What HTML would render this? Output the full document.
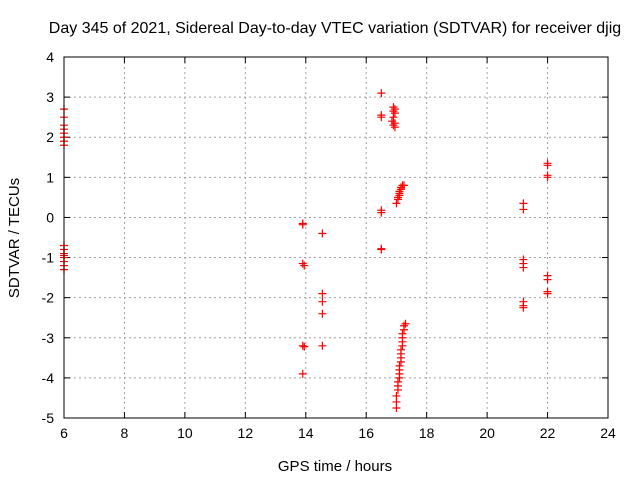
<!DOCTYPE html>
<html><head><meta charset="utf-8"><style>
body{margin:0;background:#fff;}
svg{display:block;font-family:"Liberation Sans",sans-serif;}
</style></head><body>
<svg id="chart" width="640" height="480">
<rect width="640" height="480" fill="#fff"/>
<text x="335" y="33" font-size="16" text-anchor="middle">Day 345 of 2021, Sidereal Day-to-day VTEC variation (SDTVAR) for receiver djig</text>
<text x="335" y="471" font-size="15" text-anchor="middle">GPS time / hours</text>
<text x="19" y="238" font-size="15" text-anchor="middle" transform="rotate(-90 19 238)">SDTVAR / TECUs</text>
<g id="grid"></g><g id="ticks"></g><g id="pts"></g>
<rect x="64" y="57" width="544" height="361" fill="none" stroke="#000" stroke-width="1"/>
</svg>
<script>
const xTicks=[6,8,10,12,14,16,18,20,22,24];
const yTicks=[-5,-4,-3,-2,-1,0,1,2,3,4];
const hours=[6,6,6,6,6,6,6,6,6,6,6,6,6,6,6,6,
13.9,13.9,13.9,13.95,13.9,13.95,13.9,
14.55,14.55,14.55,14.55,14.55,
16.5,16.5,16.5,16.5,16.5,16.5,16.5,
16.9,16.95,16.9,16.95,16.9,16.85,16.95,16.9,16.95,
17.0,17.05,17.05,17.1,17.1,17.1,17.15,17.15,17.2,17.25,
17.0,17.0,17.0,17.05,17.05,17.05,17.1,17.1,17.1,17.1,17.15,17.15,17.15,17.15,17.2,17.2,17.2,17.2,17.25,17.25,17.3,
21.2,21.2,21.2,21.2,21.2,21.2,21.2,21.2,
22.0,22.0,22.0,22.0,22.0,22.0,22.0,22.0];
const sdtvar=[2.7,2.5,2.3,2.2,2.1,2.0,1.9,1.8,-0.7,-0.8,-0.9,-0.95,-1.0,-1.1,-1.2,-1.3,
-0.15,-0.18,-1.15,-1.2,-3.2,-3.22,-3.9,
-0.4,-1.9,-2.1,-2.4,-3.2,
3.1,2.55,2.5,0.18,0.12,-0.78,-0.8,
2.75,2.7,2.65,2.6,2.5,2.4,2.35,2.3,2.25,
0.35,0.45,0.5,0.55,0.6,0.65,0.7,0.75,0.8,0.8,
-4.75,-4.6,-4.45,-4.3,-4.2,-4.1,-4.0,-3.9,-3.8,-3.7,-3.6,-3.5,-3.4,-3.3,-3.2,-3.1,-3.0,-2.9,-2.8,-2.7,-2.65,
0.35,0.2,-1.05,-1.15,-1.25,-2.1,-2.2,-2.25,
1.35,1.3,1.05,1.0,-1.45,-1.55,-1.85,-1.9];
const NS="http://www.w3.org/2000/svg";
const X0=64,X1=608,Y0=418,Y1=57;
function sx(h){return X0+(h-6)/18*(X1-X0);}
function sy(v){return Y0-(v+5)/9*(Y0-Y1);}
function mk(tag,attrs,parent){const e=document.createElementNS(NS,tag);for(const k in attrs)e.setAttribute(k,attrs[k]);parent.appendChild(e);return e;}
const grid=document.getElementById('grid'),ticks=document.getElementById('ticks'),pts=document.getElementById('pts');
xTicks.forEach(t=>{const x=sx(t);
 if(t>6&&t<24){const g=mk('line',{x1:x,x2:x,y1:Y1,y2:Y0,stroke:'#a0a0a0','stroke-dasharray':'2,3'},grid);
 
 }
 mk('line',{x1:x,x2:x,y1:Y0,y2:Y0-6,stroke:'#000'},ticks);
 mk('line',{x1:x,x2:x,y1:Y1,y2:Y1+6,stroke:'#000'},ticks);
 const l=mk('text',{x:x,y:Y0+20,'font-size':14,'text-anchor':'middle'},ticks);l.textContent=t;
 
 });
yTicks.forEach(t=>{const y=sy(t);
 if(t>-5&&t<4){const g=mk('line',{x1:X0,x2:X1,y1:y,y2:y,stroke:'#a0a0a0','stroke-dasharray':'2,3'},grid);
 
 }
 mk('line',{x1:X0,x2:X0+6,y1:y,y2:y,stroke:'#000'},ticks);
 mk('line',{x1:X1,x2:X1-6,y1:y,y2:y,stroke:'#000'},ticks);
 const l=mk('text',{x:X0-10,y:y+5,'font-size':14,'text-anchor':'end'},ticks);l.textContent=t;
 
 });
hours.forEach((h,i)=>{const x=sx(h),y=sy(sdtvar[i]);
 const p=mk('path',{d:`M${x-4},${y}H${x+4}M${x},${y-4}V${y+4}`,stroke:'#f00','stroke-width':1.2,fill:'none'},pts);
 
 });
</script>
</body></html>
